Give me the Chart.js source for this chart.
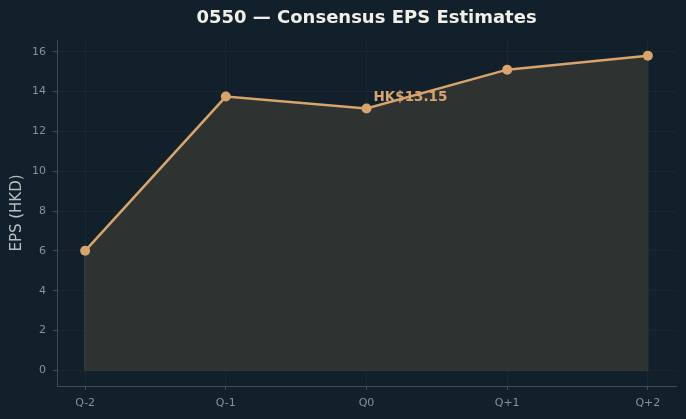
<!DOCTYPE html>
<html>
<head>
<meta charset="utf-8">
<script src="https://cdn.jsdelivr.net/npm/chart.js@4"></script>
<style>
  html, body { margin: 0; padding: 0; background: #11202a; }
  #wrap { width: 686px; height: 419px; }
</style>
</head>
<body>
<div id="wrap"><canvas id="chart" width="686" height="419"></canvas></div>
<script>
const quarters = ['Q-2', 'Q-1', 'Q0', 'Q+1', 'Q+2'];
const epsValues = [6.0, 13.75, 13.15, 15.1, 15.8];
const yTicks = [0, 2, 4, 6, 8, 10, 12, 14, 16];
const currentIndex = 2;
const currentLabel = 'HK$13.15';

const bg = '#11202a';
const lineColor = '#d8a46b';
const fillColor = '#2e3332';
const tickText = '#8a9196';
const spineColor = '#434b4f';
const gridColor = 'rgba(255,255,255,0.03)';

const points = epsValues.map((v, i) => ({ x: i, y: v }));
const last = epsValues.length - 1;
// outline of the shaded area (sides and base)
const edge = [
    { x: 0, y: epsValues[0] }, { x: 0, y: 0 },
    { x: last, y: 0 }, { x: last, y: epsValues[last] }
];

// background, titles, annotation
const decor = {
    id: 'decor',
    beforeDraw(chart) {
        const c = chart.ctx;
        c.save();
        c.fillStyle = bg;
        c.fillRect(0, 0, chart.width, chart.height);
        c.restore();
    },
    afterDraw(chart) {
        const c = chart.ctx;
        const area = chart.chartArea;
        c.save();
        c.fillStyle = '#f2efe9';
        c.font = 'bold 18px "DejaVu Sans"';
        c.textAlign = 'center';
        c.textBaseline = 'middle';
        c.fillText('0550 — Consensus EPS Estimates', (area.left + area.right) / 2, 18);

        c.translate(17, (area.top + area.bottom) / 2);
        c.rotate(-Math.PI / 2);
        c.fillStyle = '#b9bec2';
        c.font = '15px "DejaVu Sans"';
        c.fillText('EPS (HKD)', 0, 0);
        c.restore();

        const xs = chart.scales.x, ys = chart.scales.y;
        c.save();
        c.fillStyle = lineColor;
        c.font = 'bold 13.5px "DejaVu Sans"';
        c.textAlign = 'left';
        c.textBaseline = 'middle';
        c.fillText(currentLabel, xs.getPixelForValue(currentIndex) + 7, ys.getPixelForValue(epsValues[currentIndex]) - 11);
        c.restore();
    }
};

const ctx = document.getElementById('chart').getContext('2d');
const myChart = new Chart(ctx, {
    type: 'line',
    data: {
        datasets: [{
            data: points,
            borderColor: lineColor,
            backgroundColor: fillColor,
            fill: 'origin',
            borderWidth: 2.5,
            pointRadius: 5,
            pointBackgroundColor: lineColor,
            pointBorderColor: lineColor,
            pointBorderWidth: 0,
            tension: 0,
            order: 0
        }, {
            data: edge,
            borderColor: '#3e4441',
            borderWidth: 1,
            pointRadius: 0,
            fill: false,
            tension: 0,
            order: 1
        }]
    },
    options: {
        responsive: false,
        animation: false,
        layout: { padding: { top: 40, right: 10, left: 0, bottom: 0 } },
        plugins: {
            legend: { display: false },
            tooltip: { enabled: false },
            title: { display: false }
        },
        scales: {
            x: {
                type: 'linear',
                min: -0.2,
                max: 4.2,
                afterBuildTicks: s => { s.ticks = quarters.map((q, i) => ({ value: i })); },
                afterFit: s => { s.height = 33; },
                ticks: {
                    callback: v => quarters[v],
                    color: tickText,
                    font: { family: 'DejaVu Sans', size: 11 },
                    padding: 7,
                    maxRotation: 0
                },
                grid: { color: gridColor, tickColor: spineColor, tickLength: 4 },
                border: { color: spineColor, width: 1 }
            },
            y: {
                min: -0.79,
                max: 16.59,
                afterBuildTicks: s => { s.ticks = yTicks.map(v => ({ value: v })); },
                afterFit: s => { s.width = 57; },
                ticks: {
                    color: tickText,
                    font: { family: 'DejaVu Sans', size: 11 },
                    padding: 7
                },
                grid: { color: gridColor, tickColor: spineColor, tickLength: 4 },
                border: { color: spineColor, width: 1 }
            }
        }
    },
    plugins: [decor]
});
</script>
</body>
</html>
